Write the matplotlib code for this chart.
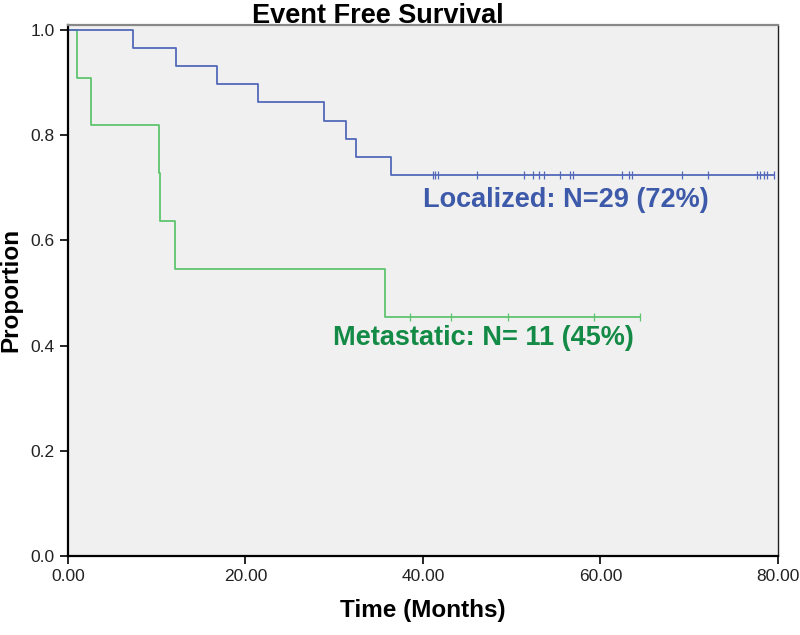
import matplotlib
matplotlib.use('Agg')
import matplotlib.pyplot as plt
import numpy as np

# event / censor times in months
loc_event_times = [7.3, 12.2, 16.8, 21.4, 28.9, 31.3, 32.4, 36.4]
loc_censor_times = [41.1, 41.4, 41.7, 46.1, 51.4, 52.4, 53.1, 53.6, 55.4, 56.6, 56.9,
                    62.4, 63.2, 63.6, 69.2, 72.1, 77.6, 78.0, 78.4, 78.8, 79.5]
met_event_times = [0.98, 2.6, 10.2, 10.35, 12.1, 35.7]
met_censor_times = [38.5, 43.2, 49.6, 59.3, 64.4]

x_ticks = [0, 20, 40, 60, 80]
y_ticks = [0.0, 0.2, 0.4, 0.6, 0.8, 1.0]

loc_color = '#5269b9'
met_color = '#5ec46e'
loc_text_color = '#3d59a9'
met_text_color = '#138a45'


def km_curve(events, censors):
    events = np.array(events, dtype=float)
    censors = np.array(censors, dtype=float)
    all_t = np.concatenate([events, censors])
    xs, ys = [0.0], [1.0]
    s = 1.0
    for t in np.unique(events):
        at_risk = np.sum(all_t >= t)
        d = np.sum(events == t)
        s *= 1 - d / at_risk
        xs.append(t)
        ys.append(s)
    xs.append(all_t.max())
    ys.append(s)
    xs, ys = np.array(xs), np.array(ys)
    cens_y = [ys[np.searchsorted(xs, c, side='right') - 1] for c in censors]
    return xs, ys, censors, np.array(cens_y)


plt.rcParams['font.family'] = ['Liberation Sans', 'DejaVu Sans']

fig = plt.figure(figsize=(8, 6.35), dpi=100)
ax = fig.add_axes([0.085, 0.1244, 0.8875, 0.837])
ax.set_facecolor('#f0f0f0')

for ev, ce, col in [(met_event_times, met_censor_times, met_color),
                    (loc_event_times, loc_censor_times, loc_color)]:
    xs, ys, cx, cy = km_curve(ev, ce)
    ax.step(xs, ys, where='post', color=col, linewidth=1.3)
    ax.plot(cx, cy, linestyle='none', marker='|', markersize=6, markeredgewidth=0.9, color=col)

ax.text(40.0, 0.677, 'Localized: N=29 (72%)', color=loc_text_color, fontsize=19.5,
        fontweight='bold', ha='left', va='center')
ax.text(29.9, 0.414, 'Metastatic: N= 11 (45%)', color=met_text_color, fontsize=19.5,
        fontweight='bold', ha='left', va='center')

ax.set_xlim(0, 80)
ax.set_ylim(0, 1.01)
ax.set_xticks(x_ticks)
ax.set_xticklabels([f'{v:.2f}' for v in x_ticks])
ax.set_yticks(y_ticks)
ax.set_yticklabels([f'{v:.1f}' for v in y_ticks])
ax.tick_params(direction='out', length=6, width=1.2, labelsize=12.5, colors='black')
for lab in ax.get_xticklabels() + ax.get_yticklabels():
    lab.set_color('#222222')

ax.spines['left'].set_linewidth(1.6)
ax.spines['bottom'].set_linewidth(1.6)
ax.spines['top'].set_color('#888888')
ax.spines['top'].set_linewidth(1.6)
ax.spines['right'].set_color('#222222')
ax.spines['right'].set_linewidth(1.0)

ax.set_xlabel('Time (Months)', fontsize=17.5, fontweight='bold', labelpad=11)
ax.set_ylabel('Proportion', fontsize=17.5, fontweight='bold', labelpad=6)

fig.text(0.4725, 1 - 23 / 635, 'Event Free Survival', fontsize=19.5, fontweight='bold',
         ha='center', va='baseline')

fig.savefig('out.png', dpi=100)
plt.close(fig)
